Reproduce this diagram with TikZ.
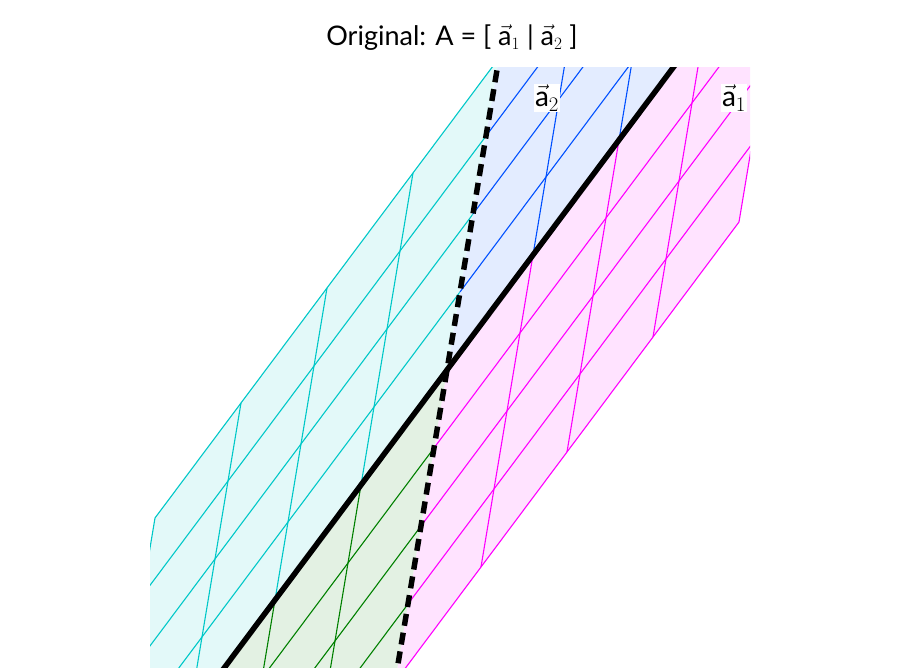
\documentclass[tikz,border=0pt]{standalone}
\usepackage{fontspec}
\setmainfont{Lato}
\usetikzlibrary{calc}
\definecolor{cyanline}{RGB}{0,200,200}
\definecolor{blueline}{RGB}{0,80,255}
\definecolor{magline}{RGB}{255,0,255}
\definecolor{greenline}{RGB}{0,128,0}
\tikzset{gridline/.style={line width=1.1pt},
	axisa/.style={line width=5.5pt,black},
	axisb/.style={line width=5.5pt,black,dash pattern=on 12pt off 7pt},
	veclabel/.style={fill=white,inner sep=1pt,font=\fontsize{28}{30}\selectfont}}
\begin{document}
\begin{tikzpicture}[x=1pt,y=1pt]
	\useasboundingbox (0,0) rectangle (900,668);
	\node (title) at (452,630) {\fontsize{27}{30}\selectfont Original: A = [ $\vec{\mathrm{a}}_1$ | $\vec{\mathrm{a}}_2$ ]};

	\begin{scope}
		\clip (150,0) rectangle (750,600);
		\begin{scope}[shift={(447,298)},x={(86pt,115pt)},y={(13pt,78pt)}]
			% one quadrant of the grid per colour
			\foreach \sx/\sy/\col in {-1/1/cyanline,1/1/blueline,1/-1/magline,-1/-1/greenline}{
				\fill[\col!11] (0,0) -- (4*\sx,0) -- (4*\sx,4*\sy) -- (0,4*\sy) -- cycle;
				\foreach \k in {1,...,4}{
					\draw[gridline,\col] (\k*\sx,0) -- (\k*\sx,4*\sy);
					\draw[gridline,\col] (0,\k*\sy) -- (4*\sx,\k*\sy);
				}
			}
			\coordinate (o) at (0,0);
			\draw[axisa] (-4,0) -- (4,0);
			\draw[axisb] (0,-4) -- (0,4);
		\end{scope}
	\end{scope}

	\node[veclabel] (lbla2) at (547,570) {$\vec{\mathrm{a}}_2$};
	\node[veclabel] (lbla1) at (734,570) {$\vec{\mathrm{a}}_1$};
\end{tikzpicture}
\end{document}
